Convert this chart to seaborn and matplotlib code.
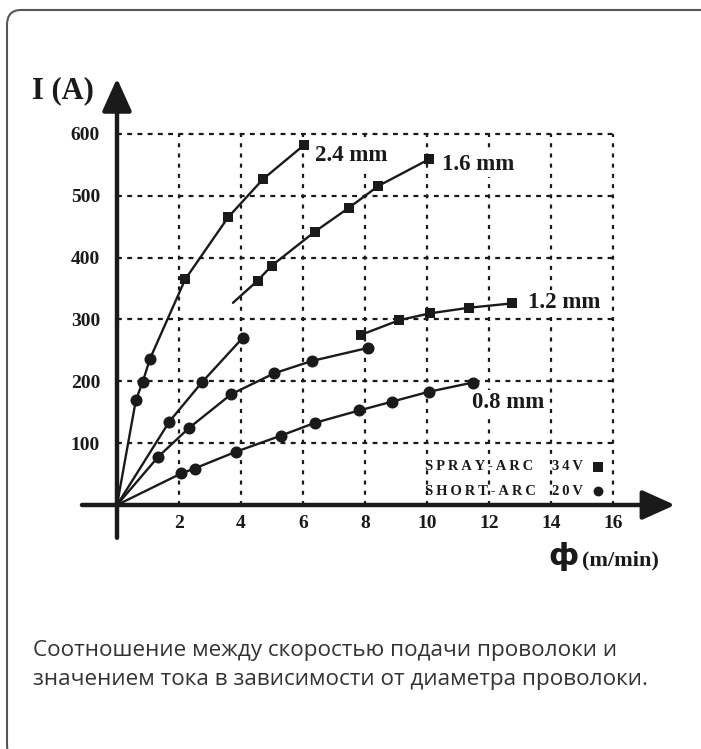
import matplotlib
matplotlib.use("Agg")
import matplotlib.pyplot as plt
from matplotlib.patches import FancyBboxPatch
import seaborn as sns

# ── Data (wire feed speed m/min, current A) ─────────────────
# 2.4 mm: short-arc circles, then spray-arc squares, one curve from origin
w24_line_x = [0, 0.61, 0.83, 1.06, 2.2, 3.58, 4.71, 6.03]
w24_line_y = [0, 170, 199, 236, 365, 465, 527, 582]
w24_short_x = [0.61, 0.83, 1.06]
w24_short_y = [170, 199, 236]
w24_spray_x = [2.2, 3.58, 4.71, 6.03]
w24_spray_y = [365, 465, 527, 582]

# 1.6 mm
w16_short_x = [0, 1.69, 2.75, 4.05]
w16_short_y = [0, 135, 199, 270]
w16_spray_x = [3.74, 4.54, 4.99, 6.38, 7.49, 8.43, 10.06]
w16_spray_y = [327, 363, 387, 442, 481, 516, 559]

# 1.2 mm
w12_short_x = [0, 1.33, 2.31, 3.68, 5.07, 6.29, 8.09]
w12_short_y = [0, 78, 124, 179, 213, 233, 254]
w12_spray_x = [7.86, 9.11, 10.1, 11.35, 12.73]
w12_spray_y = [275, 299, 310, 319, 326]

# 0.8 mm
w08_short_x = [0, 2.07, 2.5, 3.83, 5.28, 6.39, 7.82, 8.86, 10.05, 11.47]
w08_short_y = [0, 51, 59, 86, 112, 133, 153, 167, 183, 198]

x_ticks = [2, 4, 6, 8, 10, 12, 14, 16]
y_ticks = [100, 200, 300, 400, 500, 600]
curve_labels = ["2.4 mm", "1.6 mm", "1.2 mm", "0.8 mm"]
caption = ("Соотношение между скоростью подачи проволоки и\n"
           "значением тока в зависимости от диаметра проволоки.")

# ── Figure & axes placement (pixel layout) ──────────────────
sns.set_style("white")
W, H = 701, 749
fig = plt.figure(figsize=(W / 100, H / 100), dpi=100)

x0_px, px_per_x = 117, 31.0          # data x=0 at 117 px, 31 px per unit
y0_px, px_per_y = 505, 371 / 600     # data y=0 at 505 px, 600 at 134 px
xlim, ylim = (-0.5, 18.0), (-14, 700)
left = x0_px + xlim[0] * px_per_x
right = x0_px + xlim[1] * px_per_x
bottom = y0_px - ylim[0] * px_per_y
top = y0_px - ylim[1] * px_per_y
ax = fig.add_axes([left / W, 1 - bottom / H, (right - left) / W, (bottom - top) / H])
ax.set_xlim(*xlim)
ax.set_ylim(*ylim)
for s in ax.spines.values():
    s.set_visible(False)

ink = "#1a1a1a"
serif = "Liberation Serif"

# rounded frame
fig.patches.append(FancyBboxPatch((7 / W, 1 - 760 / H), 740 / W, 750 / H,
                                  boxstyle="round,pad=0,rounding_size=0.02",
                                  transform=fig.transFigure, fill=False,
                                  edgecolor="#555555", linewidth=1.5))

# ── Grid ────────────────────────────────────────────────────
ax.hlines(y_ticks, 0, 16, colors=ink, linewidth=1.6, linestyles=(0, (2.2, 2.4)))
ax.vlines(x_ticks, 0, 600, colors=ink, linewidth=1.6, linestyles=(0, (1.8, 2.8)))

# ── Axes arrows ─────────────────────────────────────────────
arrow = dict(arrowstyle="-|>,head_length=1.0,head_width=0.45", lw=3.2,
             color=ink, shrinkA=0, shrinkB=0, mutation_scale=20)
ax.annotate("", xy=(0, 690), xytext=(0, -53), arrowprops=arrow, annotation_clip=False)
ax.annotate("", xy=(18.0, 0), xytext=(-1.13, 0), arrowprops=arrow, annotation_clip=False)

# ── Curves ──────────────────────────────────────────────────
line_kw = dict(color=ink, linewidth=1.7, estimator=None, sort=False, ax=ax)
sns.lineplot(x=w24_line_x, y=w24_line_y, **line_kw)
sns.lineplot(x=w16_short_x, y=w16_short_y, **line_kw)
sns.lineplot(x=w16_spray_x, y=w16_spray_y, **line_kw)
sns.lineplot(x=w12_short_x, y=w12_short_y, **line_kw)
sns.lineplot(x=w12_spray_x, y=w12_spray_y, **line_kw)
sns.lineplot(x=w08_short_x, y=w08_short_y, **line_kw)

sq_kw = dict(marker="s", s=60, color=ink, edgecolor=ink, linewidth=0, zorder=5, ax=ax)
ci_kw = dict(marker="o", s=75, color=ink, edgecolor=ink, linewidth=0, zorder=5, ax=ax)
sns.scatterplot(x=w24_spray_x, y=w24_spray_y, **sq_kw)
sns.scatterplot(x=w16_spray_x[1:], y=w16_spray_y[1:], **sq_kw)
sns.scatterplot(x=w12_spray_x, y=w12_spray_y, **sq_kw)
sns.scatterplot(x=w24_short_x, y=w24_short_y, **ci_kw)
sns.scatterplot(x=w16_short_x[1:], y=w16_short_y[1:], **ci_kw)
sns.scatterplot(x=w12_short_x[1:], y=w12_short_y[1:], **ci_kw)
sns.scatterplot(x=w08_short_x[1:], y=w08_short_y[1:], **ci_kw)

# curve labels (white box hides the grid behind them)
lab_kw = dict(fontsize=16.5, fontweight="bold", family=serif, color=ink, va="center",
              ha="left", zorder=6,
              bbox=dict(facecolor="white", edgecolor="none", pad=1.5))
ax.text(6.39, 566, curve_labels[0], **lab_kw)
ax.text(10.48, 550, curve_labels[1], **lab_kw)
ax.text(13.26, 327, curve_labels[2], **lab_kw)
ax.text(11.45, 166, curve_labels[3], **lab_kw)

# legend block
leg_kw = dict(fontsize=10.5, fontweight="bold", family=serif, color=ink, va="center", ha="left")
spaced = lambda s: "\u2009".join(s)
ax.text(9.94, 62, spaced("SPRAY-ARC"), **leg_kw)
ax.text(14.02, 62, spaced("34V"), **leg_kw)
ax.text(9.94, 22, spaced("SHORT-ARC"), **leg_kw)
ax.text(14.02, 22, spaced("20V"), **leg_kw)
sns.scatterplot(x=[15.5], y=[62], marker="s", s=45, color=ink, linewidth=0, ax=ax, zorder=5)
sns.scatterplot(x=[15.5], y=[22], marker="o", s=50, color=ink, linewidth=0, ax=ax, zorder=5)

# ── Ticks ───────────────────────────────────────────────────
ax.set_xticks(x_ticks)
ax.set_yticks(y_ticks)
ax.set_xticklabels([str(v) for v in x_ticks])
ax.set_yticklabels([str(v) for v in y_ticks])
ax.tick_params(length=0, pad=1, labelsize=14, colors=ink)
for t in ax.get_xticklabels() + ax.get_yticklabels():
    t.set_family(serif)
    t.set_fontweight("bold")

# axis titles
ax.text(-1.74, 670, "I (A)", fontsize=22, fontweight="bold", family=serif,
        color=ink, ha="center", va="center")
ax.text(14.39, -84, "ф", fontsize=22, fontweight="bold", family="DejaVu Sans",
        color=ink, ha="center", va="center")
ax.text(15.0, -89, "(m/min)", fontsize=16, fontweight="bold", family=serif,
        color=ink, ha="left", va="center")

# caption
fig.text(33 / W, 1 - 665 / H, caption, fontsize=16.2, family="Open Sans", color="#333333",
         ha="left", va="center", linespacing=1.45)

fig.savefig("out.png", dpi=100)
